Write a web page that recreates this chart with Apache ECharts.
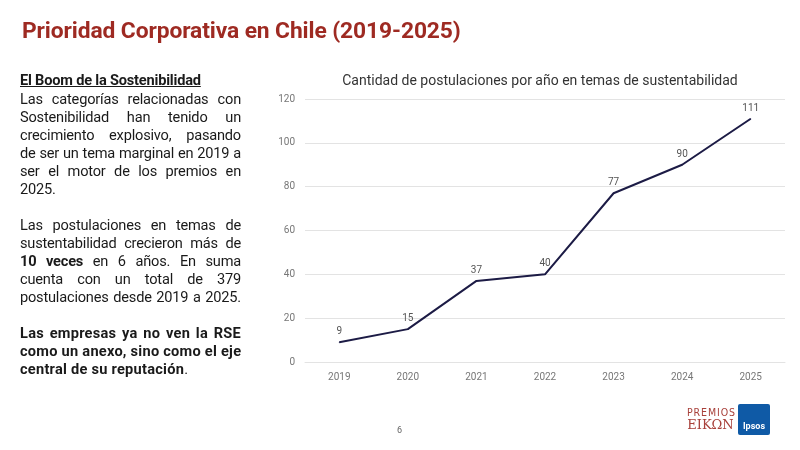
<!DOCTYPE html>
<html>
<head>
<meta charset="utf-8">
<script src="https://cdn.jsdelivr.net/npm/echarts@6/dist/echarts.min.js"></script>
<style>
  html, body { margin:0; padding:0; background:#fff; }
  #page { position:relative; width:800px; height:450px; overflow:hidden; font-family: Roboto, "Noto Sans", sans-serif; }
  #chart { position:absolute; left:0; top:0; width:800px; height:450px; }
  .title { position:absolute; left:22px; top:17px; font-size:22.8px; font-weight:700; color:#9e2a22; letter-spacing:-0.1px; white-space:nowrap; }
  .body { position:absolute; left:20px; top:71px; width:221px; font-size:14.6px; line-height:18px; color:#1a1a1a; letter-spacing:-0.2px; }
  .body p { margin:0 0 18px 0; }
  .body .h { font-weight:700; text-decoration:underline; display:block; margin-bottom:1px; }
  .body .l { display:block; white-space:nowrap; text-align:justify; text-align-last:justify; }
  .body .e { display:block; white-space:nowrap; text-align:left; }
  .body .bp { font-weight:700; letter-spacing:0.25px; }
  .pnum { position:absolute; left:397px; top:425px; font-size:9px; color:#666; }
  .premios { position:absolute; left:687px; top:407px; color:#a8403a; font-family: "DejaVu Serif", serif; line-height:1; text-align:center; width:47px; }
  .premios .a { font-family: "DejaVu Sans Condensed", "Liberation Sans Narrow", sans-serif; font-size:10.5px; letter-spacing:0.9px; }
  .premios .b { font-size:13px; letter-spacing:0; }
  .ipsos { position:absolute; left:738px; top:404px; width:32px; height:31px; background:#0f5aa6; border-radius:2px; color:#fff; font-size:9px; font-weight:700; text-align:center; }
  .ipsos span { position:absolute; left:0; right:0; bottom:4px; }
</style>
</head>
<body>
<div id="page">
  <div id="chart"></div>
  <div class="title">Prioridad Corporativa en Chile (2019-2025)</div>
  <div class="body">
    <p><span class="h">El Boom de la Sostenibilidad</span><span class="l">Las categorías relacionadas con</span><span class="l">Sostenibilidad han tenido un</span><span class="l">crecimiento explosivo, pasando</span><span class="l">de ser un tema marginal en 2019 a</span><span class="l">ser el motor de los premios en</span><span class="e">2025.</span></p>
    <p><span class="l">Las postulaciones en temas de</span><span class="l">sustentabilidad crecieron más de</span><span class="l"><b>10 veces</b> en 6 años. En suma</span><span class="l">cuenta con un total de 379</span><span class="l">postulaciones desde 2019 a 2025.</span></p>
    <p class="bp"><span class="l">Las empresas ya no ven la RSE</span><span class="l">como un anexo, sino como el eje</span><span class="e">central de su reputación<span style="font-weight:400">.</span></span></p>
  </div>
  <div class="pnum">6</div>
  <div class="premios"><div class="a">PREMIOS</div><div class="b">EIKΩN</div></div>
  <div class="ipsos"><span>Ipsos</span></div>
</div>
<script>
const chartTitle = 'Cantidad de postulaciones por año en temas de sustentabilidad';
const years = ['2019', '2020', '2021', '2022', '2023', '2024', '2025'];
const postulaciones = [9, 15, 37, 40, 77, 90, 111];
const yMin = 0, yMax = 120, yStep = 20;

const chart = echarts.init(document.getElementById('chart'));
chart.setOption({
  animation: false,
  title: {
    text: chartTitle,
    left: 535, top: 69, textAlign: 'center',
    textStyle: { fontFamily: 'Roboto', fontSize: 14, fontWeight: 'normal', color: '#333' }
  },
  grid: { left: 305, right: 15, top: 99, bottom: 88 },
  xAxis: {
    type: 'category', data: years, boundaryGap: true,
    axisLine: { show: true, lineStyle: { color: '#e3e3e3' } },
    axisTick: { show: false },
    axisLabel: { color: '#777', fontSize: 10, margin: 10, fontFamily: 'Roboto' }
  },
  yAxis: {
    type: 'value', min: yMin, max: yMax, interval: yStep,
    axisLine: { show: false }, axisTick: { show: false },
    axisLabel: { color: '#777', fontSize: 10, margin: 10, fontFamily: 'Roboto' },
    splitLine: { lineStyle: { color: '#e3e3e3', width: 1 } }
  },
  series: [{
    type: 'line', data: postulaciones,
    symbol: 'circle', symbolSize: 1,
    lineStyle: { color: '#1c1b45', width: 2 },
    itemStyle: { color: '#1c1b45' },
    label: { show: true, position: 'top', distance: 5, color: '#555', fontSize: 10, fontFamily: 'Roboto' }
  }]
});
</script>
</body>
</html>
